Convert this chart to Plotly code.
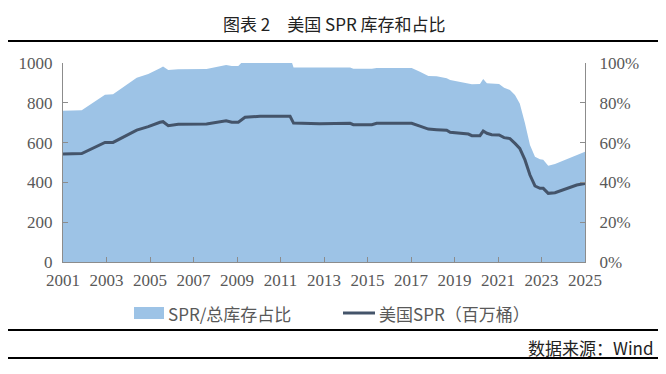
import plotly.graph_objects as go

years = [2001.0, 2001.86, 2002.93, 2003.3, 2004.39, 2004.92, 2005.46, 2005.6, 2005.84, 2006.3,
         2007.6, 2008.5, 2008.76, 2009.06, 2009.37, 2010.06, 2011.44, 2011.6, 2012.8, 2014.2,
         2014.35, 2015.2, 2015.42, 2017.03, 2017.41, 2017.8, 2018.18, 2018.64, 2018.8, 2019.25,
         2019.64, 2019.8, 2020.17, 2020.32, 2020.49, 2020.71, 2021.05, 2021.28, 2021.55, 2021.78,
         2022.0, 2022.24, 2022.47, 2022.7, 2022.93, 2023.08, 2023.31, 2023.62, 2024.16, 2024.62,
         2025.0]

spr_mb = [543, 545, 601, 601, 663, 680, 702, 705, 685, 692,
          693, 710, 702, 702, 727, 732, 732, 698, 695, 697,
          690, 690, 697, 697, 683, 668, 665, 662, 652, 647,
          643, 635, 635, 658, 647, 640, 638, 625, 620, 596,
          571, 513, 437, 382, 370, 370, 345, 348, 370, 387,
          395]

ratio_pct = [76, 76.2, 84, 84.3, 92.6, 94.5, 97.3, 98.2, 96.5, 96.8,
             97, 99, 98.5, 98.5, 102, 103, 103, 97.8, 97.7, 97.7,
             97.1, 97.1, 97.5, 97.5, 95.6, 93.5, 93.3, 92.3, 91.5, 90.6,
             89.8, 89.3, 89.4, 92.0, 89.8, 89.5, 89.4, 87.6, 86.4, 83.9,
             79.7, 69.7, 58.8, 52.9, 51.6, 51.4, 48.4, 49.2, 51.6, 53.8,
             55.4]

x_ticks = list(range(2001, 2026, 2))
left_ticks = [0, 200, 400, 600, 800, 1000]
right_ticks = [0, 20, 40, 60, 80, 100]

W, H = 666, 374
OFF = 8  # page body margin: figure is drawn 8px right/down of window origin
L, R, T, B = 63 - OFF, 585 - OFF, 63 - OFF, 262 - OFF

def px(sx):
    return (sx - OFF - L) / (R - L)

def py(sy):
    return (B - (sy - OFF)) / (B - T)

AREA = "#9DC3E6"
LINE = "#44546A"
AX = "#8C8C8C"
TXT = "#595959"
SERIF = "Liberation Serif, Times New Roman, serif"
CJK = "Noto Sans CJK SC, sans-serif"

fig = go.Figure()
fig.add_trace(go.Scatter(
    x=years, y=ratio_pct, yaxis="y", mode="lines", fill="tozeroy",
    line=dict(width=0, color=AREA), fillcolor=AREA, name="SPR/总库存占比",
    showlegend=False, hoverinfo="skip"))
fig.add_trace(go.Scatter(
    x=years, y=spr_mb, yaxis="y2", mode="lines",
    line=dict(width=3, color=LINE), name="美国SPR（百万桶）", showlegend=False))

tick_font = dict(family=SERIF, size=17, color=TXT)
fig.update_layout(
    width=W, height=H, autosize=False,
    margin=dict(l=L, r=W - R, t=T, b=H - B, pad=0),
    paper_bgcolor="white", plot_bgcolor="white",
    xaxis=dict(range=[2001, 2025], tickvals=x_ticks, ticktext=[str(v) for v in x_ticks],
               showgrid=False, zeroline=False, showline=True, linecolor=AX, linewidth=1,
               ticks="inside", ticklen=5, tickcolor=AX, automargin=False,
               tickfont=tick_font, ticklabelstandoff=3),
    yaxis=dict(range=[0, 100], tickvals=right_ticks, ticktext=[f"{v}%" for v in right_ticks],
               side="right", showgrid=False, zeroline=False,
               showline=True, linecolor=AX, linewidth=1, ticks="inside", ticklen=5,
               tickcolor=AX, tickfont=tick_font, automargin=False, ticklabelstandoff=10),
    yaxis2=dict(range=[0, 1000], tickvals=left_ticks, overlaying="y", side="left",
                showgrid=False, zeroline=False, showline=True, linecolor=AX, linewidth=1,
                ticks="inside", ticklen=5, tickcolor=AX, tickfont=tick_font,
                automargin=False, ticklabelstandoff=6),
)

shapes = []
for yy in (4, 41, 330, 358):
    shapes.append(dict(type="line", xref="paper", yref="paper", x0=px(3), x1=px(663),
                       y0=py(yy), y1=py(yy), line=dict(color="black", width=2)))
shapes.append(dict(type="rect", xref="paper", yref="paper", x0=px(134), x1=px(164),
                   y0=py(319), y1=py(307), fillcolor=AREA, line=dict(width=0)))
shapes.append(dict(type="line", xref="paper", yref="paper", x0=px(343), x1=px(375),
                   y0=py(313), y1=py(313), line=dict(color=LINE, width=3)))
fig.update_layout(shapes=shapes)

ann = [
    dict(text="图表 2　美国 SPR 库存和占比", x=px(334), y=py(23), xref="paper", yref="paper",
         showarrow=False, xanchor="center", yanchor="middle",
         font=dict(family=CJK, size=17, color="#222222")),
    dict(text="SPR/总库存占比", x=px(166), y=py(313), xref="paper", yref="paper",
         showarrow=False, xanchor="left", yanchor="middle",
         font=dict(family=CJK, size=17, color=TXT)),
    dict(text="美国SPR（百万桶）", x=px(377), y=py(313), xref="paper", yref="paper",
         showarrow=False, xanchor="left", yanchor="middle",
         font=dict(family=CJK, size=17, color=TXT)),
    dict(text="数据来源：Wind", x=px(656), y=py(347), xref="paper", yref="paper",
         showarrow=False, xanchor="right", yanchor="middle",
         font=dict(family=CJK, size=17, color="#222222")),
]
fig.update_layout(annotations=ann)

fig.write_html("out.html")
